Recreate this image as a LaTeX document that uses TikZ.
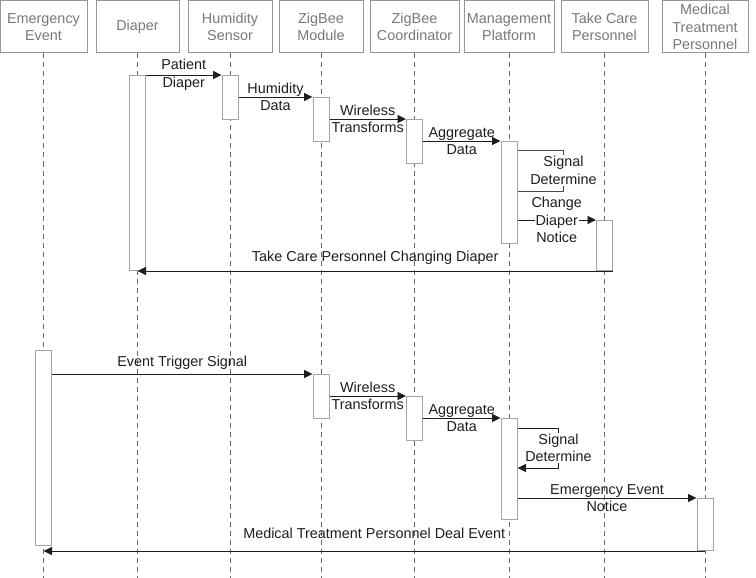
\documentclass[tikz,border=0pt]{standalone}
\usepackage{fontspec}
\setmainfont{Liberation Sans}
\usepackage{xcolor}
\definecolor{headgrey}{RGB}{120, 120, 120}
\definecolor{boxgrey}{RGB}{150, 150, 150}
\definecolor{actgrey}{RGB}{165, 165, 165}
\definecolor{lifegrey}{RGB}{105, 105, 105}
\definecolor{msgdark}{RGB}{30, 30, 30}
\usepackage{tikz}
\usetikzlibrary{
  arrows.meta,
  positioning,
  calc
}
\setlength{\fboxsep}{1pt}

\begin{document}
\begin{tikzpicture}[x=1pt, y=-1pt,
  every node/.style={font=\fontsize{14.4}{17.5}\selectfont},
  head/.style={draw=boxgrey, line width=1pt, text=headgrey, align=center,
    minimum height=52pt, anchor=north, inner sep=1pt},
  life/.style={lifegrey, line width=0.9pt, dash pattern=on 5pt off 4pt},
  act/.style={draw=actgrey, fill=white, line width=1pt, minimum width=16pt,
    anchor=north, inner sep=0pt},
  msg/.style={msgdark, line width=0.9pt, -{Triangle[length=8.5pt, width=8pt]}},
  selfline/.style={msgdark!80, line width=0.9pt},
  lbl/.style={text=msgdark, align=center, inner sep=1pt}
]

  \useasboundingbox (0, 0) rectangle (756, 578);
  \coordinate (bottom) at (0, 578);

  % ---------- HEADERS ----------
  \node[head, minimum width=87pt] (ee) at (43.5, 0.5) {Emergency\\Event};
  \node[head, minimum width=83pt] (dp) at (137.5, 0.5) {Diaper};
  \node[head, minimum width=84pt] (hs) at (230, 0.5) {Humidity\\Sensor};
  \node[head, minimum width=84pt] (zm) at (321, 0.5) {ZigBee\\Module};
  \node[head, minimum width=89pt] (zc) at (414.5, 0.5) {ZigBee\\Coordinator};
  \node[head, minimum width=90pt] (mp) at (509, 0.5) {Management\\Platform};
  \node[head, minimum width=87pt] (tc) at (604.5, 0.5) {Take Care\\Personnel};
  \node[head, minimum width=86pt] (mt) at (705, 0.5) {Medical\\Treatment\\Personnel};

  % lifelines
  \foreach \n in {ee, dp, hs, zm, zc, mp, tc, mt}
    \draw[life] (\n.south) -- (\n.south |- bottom);

  % ---------- DIAPER CHANGE ----------
  \node[act, minimum height=195pt] (dpa) at (137.5, 75) {};
  \node[act, minimum height=44pt] (hsa) at (230, 75) {};
  \node[act, minimum height=44pt] (zma) at (321, 97) {};
  \node[act, minimum height=44pt] (zca) at (414.5, 119) {};
  \node[act, minimum height=102pt] (mpa) at (509, 141) {};
  \node[act, minimum height=50pt] (tca) at (604.5, 220) {};

  \draw[msg] (dpa.east |- hsa.north) -- node[lbl] {Patient\\Diaper} (hsa.north west);
  \draw[msg] (hsa.east |- zma.north) -- node[lbl] {Humidity\\Data} (zma.north west);
  \draw[msg] (zma.east |- zca.north) -- node[lbl] {Wireless\\Transforms} (zca.north west);
  \draw[msg] (zca.east |- mpa.north) -- node[lbl] {Aggregate\\Data} (mpa.north west);

  % self check
  \draw[selfline] ([yshift=-9pt]mpa.north east) -- ++(46, 0)
    |- node[lbl, pos=0.25, fill=white] {Signal\\Determine} ([yshift=-50pt]mpa.north east);

  \draw[msg] (mpa.east |- tca.north)
    -- node[lbl] {Change\\\colorbox{white}{Diaper}\\Notice} (tca.north west);
  \draw[msg] (tca.south east)
    -- node[lbl, above=5pt] {Take Care Personnel Changing Diaper} (dp.south |- tca.south);

  % ---------- EMERGENCY EVENT ----------
  \node[act, minimum height=195pt] (eea) at (43.5, 350) {};
  \node[act, minimum height=44pt] (zmb) at (321, 374) {};
  \node[act, minimum height=44pt] (zcb) at (414.5, 396) {};
  \node[act, minimum height=101pt] (mpb) at (509, 418) {};
  \node[act, minimum height=52pt] (mta) at (705, 498) {};

  \draw[msg] (eea.east |- zmb.north)
    -- node[lbl, above=3pt] {Event Trigger Signal} (zmb.north west);
  \draw[msg] (zmb.east |- zcb.north) -- node[lbl] {Wireless\\Transforms} (zcb.north west);
  \draw[msg] (zcb.east |- mpb.north) -- node[lbl] {Aggregate\\Data} (mpb.north west);

  % self check
  \draw[msg] ([yshift=-10pt]mpb.north east) -- ++(41, 0)
    |- node[lbl, pos=0.25, fill=white] {Signal\\Determine} ([yshift=-50pt]mpb.north east);

  \draw[msg] (mpb.east |- mta.north) -- node[lbl] {Emergency Event\\Notice} (mta.north west);
  \draw[msg] (mta.south)
    -- node[lbl, above=11pt] {Medical Treatment Personnel Deal Event} (ee.south |- mta.south);

\end{tikzpicture}
\end{document}
